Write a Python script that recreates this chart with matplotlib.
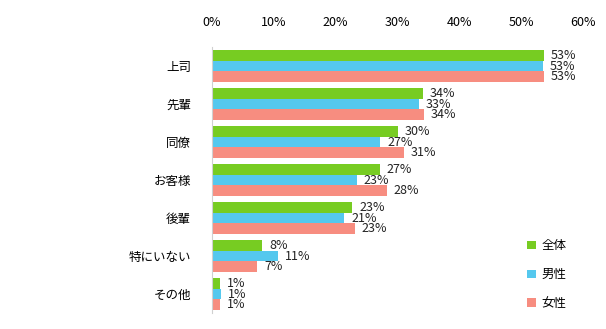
import matplotlib
matplotlib.use('Agg')
import matplotlib.pyplot as plt
import numpy as np

plt.rcParams['font.family'] = ['Noto Sans CJK JP', 'DejaVu Sans']

# データ
categories = ['上司', '先輩', '同僚', 'お客様', '後輩', '特にいない', 'その他']
series_names = ['全体', '男性', '女性']
zentai = [53.7, 34.1, 30.1, 27.1, 22.7, 8.1, 1.3]
dansei = [53.5, 33.4, 27.2, 23.4, 21.4, 10.7, 1.4]
josei = [53.7, 34.3, 31.1, 28.3, 23.1, 7.3, 1.3]
labels_zentai = ['53%', '34%', '30%', '27%', '23%', '8%', '1%']
labels_dansei = ['53%', '33%', '27%', '23%', '21%', '11%', '1%']
labels_josei = ['53%', '34%', '31%', '28%', '23%', '7%', '1%']
xticks = [0, 10, 20, 30, 40, 50, 60]

colors = ['#77cc22', '#55c8ee', '#f78d80']

fig = plt.figure(figsize=(6.06, 3.29), dpi=100)
ax = fig.add_axes([212 / 606, 1 - 313 / 329, (583 - 212) / 606, (313 - 47) / 329])

y = np.arange(len(categories))
h = 0.285
all_vals = [zentai, dansei, josei]
all_labels = [labels_zentai, labels_dansei, labels_josei]
for i, (vals, labs) in enumerate(zip(all_vals, all_labels)):
    pos = y + (i - 1) * h
    ax.barh(pos, vals, height=h, color=colors[i], label=series_names[i])
    for p, v, t in zip(pos, vals, labs):
        ax.text(v + 1.1, p, t, va='center', ha='left', fontsize=9, color='#222222')

ax.set_ylim(len(categories) - 0.5, -0.5)
ax.set_xlim(0, 60)
ax.set_xticks(xticks)
ax.set_xticklabels([f'{t}%' for t in xticks], fontsize=9)
ax.xaxis.tick_top()
ax.tick_params(axis='x', length=0, pad=13)
ax.set_yticks(y)
ax.set_yticklabels(categories, fontsize=9)
ax.tick_params(axis='y', length=0, pad=15)

for s in ['top', 'right', 'bottom']:
    ax.spines[s].set_visible(False)
ax.spines['left'].set_color('#d0d0d0')

ax.legend(loc='lower left', bbox_to_anchor=(0.82, -0.03), frameon=False,
          fontsize=9, handlelength=0.65, handleheight=0.65, labelspacing=1.25,
          handletextpad=0.45)

plt.savefig('out.png', dpi=100)
plt.close()
